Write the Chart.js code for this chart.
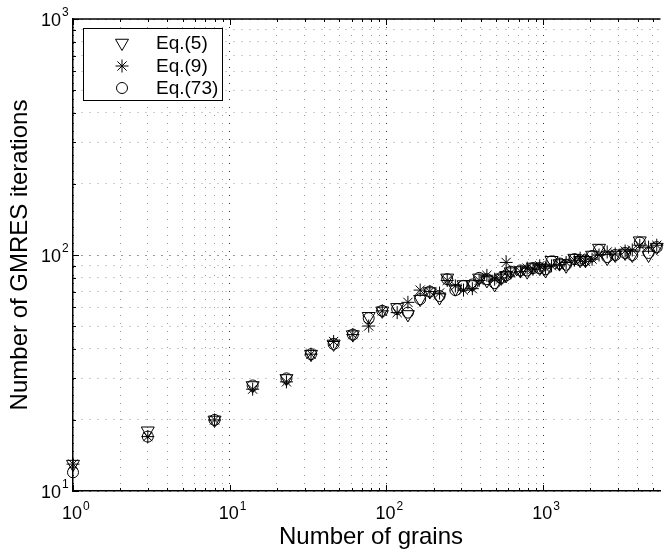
<!DOCTYPE html>
<html>
<head>
<meta charset="utf-8">
<script src="https://cdn.jsdelivr.net/npm/chart.js@4.4.1/dist/chart.umd.min.js"></script>
<style>
  html, body { margin: 0; padding: 0; background: #fff; overflow: hidden; }
</style>
</head>
<body>
<canvas id="myChart" width="669" height="552"></canvas>
<script>
// number of grains (x) and GMRES iterations for each preconditioner
const grains = [1, 3, 8, 14, 23, 33, 46, 61, 77, 94, 117, 137, 164, 189, 218, 244, 275, 310, 353, 390,
  437, 490, 540, 580, 620, 715, 790, 860, 950, 1035, 1130, 1270, 1400, 1580, 1720, 1860, 2050, 2270,
  2560, 2880, 3330, 3700, 4130, 4700, 5300];
const eq5 = [13, 18, 20, 28, 30, 38, 42, 46, 55, 58, 60, 56, 65, 70, 66, 80, 72, 75, 75, 80,
  78, 75, 80, 82, 85, 86, 85, 89, 88, 86, 95, 92, 90, 97, 95, 95, 100, 107,
  97, 100, 102, 100, 115, 100, 108];
const eq9 = [13, 17, 20, 27, 29, 38, 43, 46, 50, 58, 57, 63, 71, 70, 69, 78, 74, 71, 72, 78,
  82, 79, 80, 93, 84, 85, 88, 87, 90, 88, 90, 91, 93, 95, 97, 94, 96, 100,
  103, 101, 104, 105, 110, 108, 110];
const eq73 = [12, 17, 20, 28, 30, 38, 42, 46, 54, 58, 59, 57, 65, 70, 67, 79, 71, 74, 75, 80,
  79, 76, 80, 82, 85, 86, 86, 88, 88, 87, 94, 92, 91, 96, 95, 95, 99, 105,
  98, 100, 102, 100, 113, 102, 108];

const seriesLabels = ['Eq.(5)', 'Eq.(9)', 'Eq.(73)'];
const xDecades = [1, 10, 100, 1000];
const yDecades = [10, 100, 1000];
const xExp = ['0', '1', '2', '3'];
const yExp = ['1', '2', '3'];
const xTitle = 'Number of grains';
const yTitle = 'Number of GMRES iterations';

const FONT = '"Liberation Sans", Arial, Helvetica, sans-serif';

function toPoints(ys) {
  return grains.map((g, i) => ({ x: g, y: ys[i] }));
}

// is the value 1..9 times a power of ten?  0 = no, 1 = minor, 2 = decade
function tickKind(v) {
  const p = Math.pow(10, Math.floor(Math.log10(v) + 1e-9));
  const m = v / p;
  if (Math.abs(m - Math.round(m)) > 1e-6) return 0;
  return Math.round(m) === 1 ? 2 : 1;
}

function gridColor(ctx) {
  const k = tickKind(ctx.tick.value);
  if (k === 0) return 'rgba(0,0,0,0)';
  return k === 2 ? '#333' : '#999';
}

const matlabLook = {
  id: 'matlabLook',
  afterDraw(chart) {
    const c = chart.ctx;
    const xs = chart.scales.x, ys = chart.scales.y;
    const a = chart.chartArea;
    c.save();
    c.strokeStyle = '#000';
    c.fillStyle = '#000';

    // top box line
    c.lineWidth = 1.5;
    c.beginPath();
    c.moveTo(a.left, a.top);
    c.lineTo(a.right, a.top);
    c.stroke();

    // inward ticks
    c.lineWidth = 1;
    c.beginPath();
    xs.ticks.forEach(t => {
      const k = tickKind(t.value);
      if (!k) return;
      const px = Math.round(xs.getPixelForValue(t.value)) + 0.5;
      const len = k === 2 ? 6 : 3;
      c.moveTo(px, a.bottom); c.lineTo(px, a.bottom - len);
      c.moveTo(px, a.top); c.lineTo(px, a.top + len);
    });
    ys.ticks.forEach(t => {
      const k = tickKind(t.value);
      if (!k) return;
      const py = Math.round(ys.getPixelForValue(t.value)) + 0.5;
      const len = k === 2 ? 6 : 3;
      c.moveTo(a.left, py); c.lineTo(a.left + len, py);
    });
    c.stroke();

    // tick labels with superscripts
    c.textBaseline = 'alphabetic';
    xDecades.forEach((v, i) => {
      const px = xs.getPixelForValue(v);
      c.font = '18px ' + FONT;
      const w = c.measureText('10').width;
      c.textAlign = 'left';
      c.fillText('10', px - w / 2 - 1, a.bottom + 28);
      c.font = '12px ' + FONT;
      c.fillText(xExp[i], px + w / 2, a.bottom + 19);
    });
    yDecades.forEach((v, i) => {
      const py = ys.getPixelForValue(v);
      c.font = '18px ' + FONT;
      const w = c.measureText('10').width;
      c.textAlign = 'left';
      c.fillText('10', a.left - 12 - w, py + 7);
      c.font = '12px ' + FONT;
      c.fillText(yExp[i], a.left - 11, py - 3);
    });

    // axis titles
    c.font = '24px ' + FONT;
    c.textAlign = 'center';
    c.textBaseline = 'middle';
    c.fillText(xTitle, 371, 537);
    c.save();
    c.translate(20, (a.top + a.bottom) / 2);
    c.rotate(-Math.PI / 2);
    c.fillText(yTitle, 0, 0);
    c.restore();

    // legend box
    const bx = 83.5, by = 28.5, bw = 139, bh = 72;
    c.fillStyle = '#fff';
    c.fillRect(bx, by, bw, bh);
    c.lineWidth = 1;
    c.strokeStyle = '#000';
    c.strokeRect(bx, by, bw, bh);
    const rowsY = [43, 66, 88];
    chart.data.datasets.forEach((ds, i) => {
      c.save();
      c.strokeStyle = '#000';
      c.fillStyle = 'rgba(0,0,0,0)';
      Chart.helpers.drawPoint(c, {
        pointStyle: ds.pointStyle,
        radius: ds.pointRadius,
        rotation: ds.pointRotation || 0,
        borderWidth: 1
      }, 122, rowsY[i]);
      c.restore();
      c.fillStyle = '#000';
      c.font = '19px ' + FONT;
      c.textAlign = 'left';
      c.textBaseline = 'middle';
      c.fillText(seriesLabels[i], 156, rowsY[i] + 1);
    });
    c.restore();
  }
};

const common = {
  showLine: false,
  borderColor: '#000',
  backgroundColor: 'rgba(0,0,0,0)',
  borderWidth: 1,
  pointBorderWidth: 1,
  pointHoverRadius: 6,
  clip: false
};

new Chart(document.getElementById('myChart'), {
  type: 'scatter',
  data: {
    datasets: [
      Object.assign({ label: seriesLabels[0], data: toPoints(eq5), pointStyle: 'triangle', pointRotation: 180, pointRadius: 7.5 }, common),
      Object.assign({ label: seriesLabels[1], data: toPoints(eq9), pointStyle: 'star', pointRadius: 6.5 }, common),
      Object.assign({ label: seriesLabels[2], data: toPoints(eq73), pointStyle: 'circle', pointRadius: 5.5 }, common)
    ]
  },
  options: {
    responsive: false,
    animation: false,
    devicePixelRatio: 1,
    layout: { padding: { left: 73, top: 19, right: 0, bottom: 61 } },
    plugins: {
      legend: { display: false },
      tooltip: { enabled: false }
    },
    scales: {
      x: {
        type: 'logarithmic',
        min: 1,
        max: 5600,
        afterFit: s => { s.height = 0; },
        ticks: { display: false },
        grid: { color: gridColor, lineWidth: 1, drawTicks: false },
        border: { display: true, color: '#000', width: 1.5, dash: [1, 7] }
      },
      y: {
        type: 'logarithmic',
        min: 10,
        max: 1000,
        afterFit: s => { s.width = 0; },
        ticks: { display: false },
        grid: { color: gridColor, lineWidth: 1, drawTicks: false },
        border: { display: true, color: '#000', width: 1.5, dash: [1, 7] }
      }
    }
  },
  plugins: [matlabLook]
});
</script>
</body>
</html>
